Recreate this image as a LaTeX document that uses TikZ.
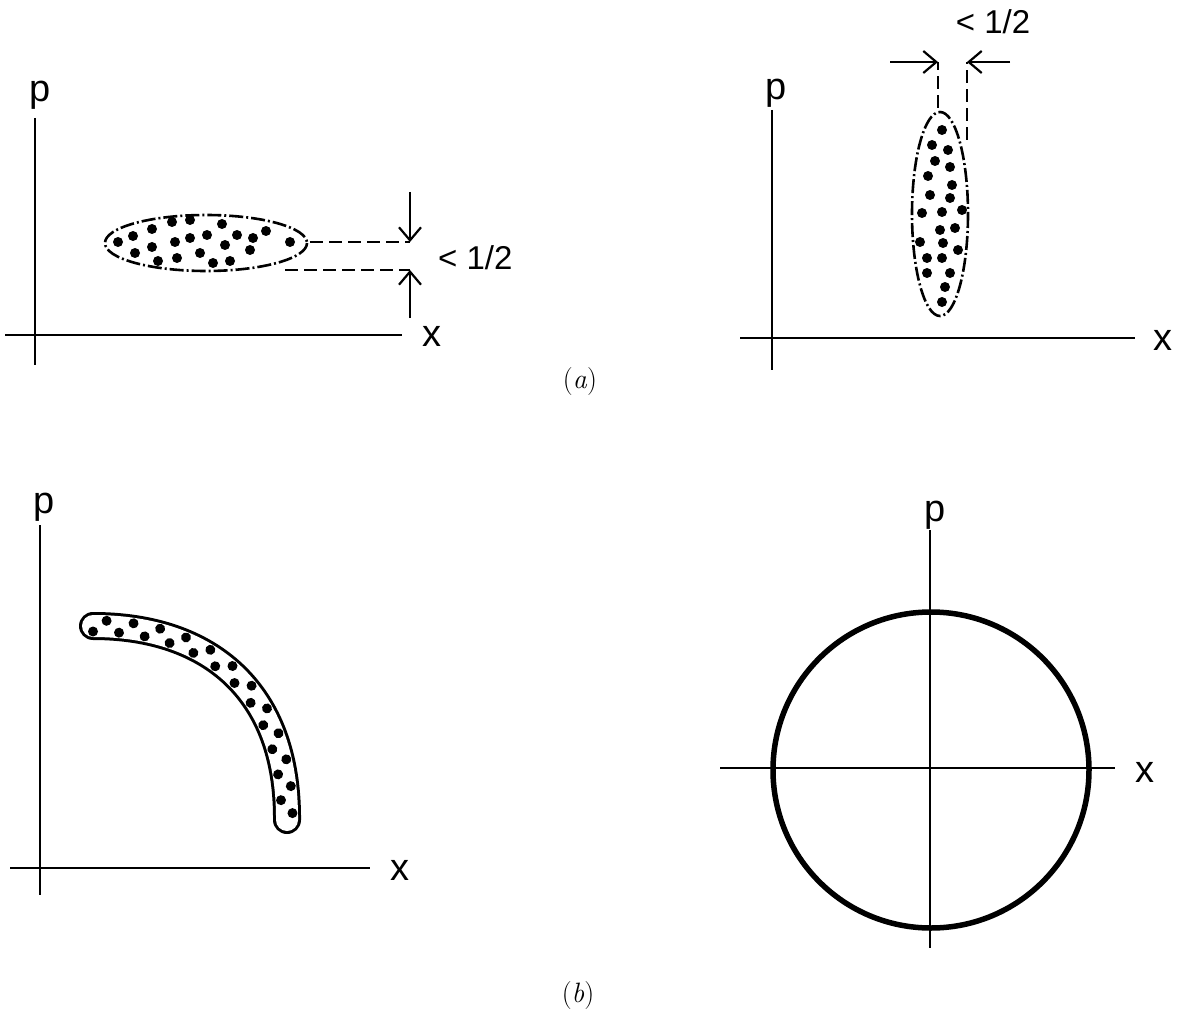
\documentclass[tikz,border=0pt]{standalone}
\usepackage{fontspec}
\setsansfont{Liberation Sans}
\usetikzlibrary{arrows.meta, decorations.markings}

\begin{document}
\begin{tikzpicture}[x=1pt, y=-1pt,
  axis/.style={line width=2pt},
  lbl/.style={font=\sffamily\fontsize{38}{42}\selectfont, inner sep=0pt},
  dim/.style={font=\sffamily\fontsize{33}{36}\selectfont, inner sep=0pt},
  tag/.style={font=\fontsize{28}{32}\selectfont, inner sep=0pt},
  dot/.style={fill=black},
  rim/.style={line width=2.6pt, dash pattern=on 14pt off 3pt on 2pt off 3pt},
  guide/.style={line width=2.2pt, dash pattern=on 13pt off 6pt},
  arr/.style={-{Straight Barb[length=13pt, width=22pt]}, line width=2.2pt}
]
  \useasboundingbox (0,0) rectangle (1181,1011);

  % (a), left: wide ellipse
  \draw[axis] (35,118) -- (35,365);
  \draw[axis] (5,335) -- (402,335);
  \node[lbl] (pa1) at (40,95) {p};
  \node[lbl] (xa1) at (432,336) {x};
  \draw[rim] (206,243) ellipse [x radius=101, y radius=28];
  \foreach \px/\py in {118/242, 135/253, 133/236, 152/229, 152/247, 158/261,
      172/222, 175/242, 177/258, 190/220, 190/238, 200/253, 207/235, 213/263,
      222/224, 225/245, 230/261, 237/235, 250/250, 253/238, 266/231, 290/242}
    \fill[dot] (\px,\py) circle (5);
  \coordinate (ta) at (410,242);
  \coordinate (tb) at (410,270);
  \draw[guide] (310,242) -- (ta);
  \draw[guide] (285,270) -- (tb);
  \coordinate (sa) at (410,192);
  \coordinate (sb) at (410,318);
  \draw[arr] (sa) -- (ta);
  \draw[arr] (sb) -- (tb);
  \node[dim, anchor=west] (wa) at (438,258) {< 1/2};

  % (a), right: tall ellipse
  \draw[axis] (772,110) -- (772,370);
  \draw[axis] (740,338) -- (1135,338);
  \node[lbl] (pa2) at (776,93) {p};
  \node[lbl] (xa2) at (1163,340) {x};
  \draw[rim] (940,214) ellipse [x radius=28, y radius=102];
  \foreach \px/\py in {942/130, 932/145, 948/150, 935/161, 950/167, 928/176,
      952/185, 930/195, 950/198, 922/213, 942/212, 962/210, 940/230, 955/228,
      920/242, 943/243, 958/250, 927/258, 942/258, 927/273, 950/273, 945/287,
      942/302}
    \fill[dot] (\px,\py) circle (5);
  \coordinate (ua) at (938,62);
  \coordinate (ub) at (967,62);
  \draw[guide] (938,108) -- (ua);
  \draw[guide] (967,140) -- (ub);
  \coordinate (va) at (890,62);
  \coordinate (vb) at (1010,62);
  \draw[arr] (va) -- (ua);
  \draw[arr] (vb) -- (ub);
  \node[dim] (wb) at (993,22) {< 1/2};

  \node[tag] (capa) at (580,382) {(\textit{a})};

  % (b), left: bent band
  \draw[axis] (40,525) -- (40,895);
  \draw[axis] (10,868) -- (370,868);
  \node[lbl] (pb1) at (44,507) {p};
  \node[lbl] (xb1) at (400,870) {x};
  \coordinate (b1) at (93,626);
  \coordinate (b2) at (210,626);
  \coordinate (b3) at (288,692);
  \coordinate (b4) at (287,820);
  \draw[line width=28pt, line cap=round] (b1) .. controls (b2) and (b3) .. (b4);
  \draw[line width=22pt, line cap=round, white] (b1) .. controls (b2) and (b3) .. (b4);
  \path[decoration={markings,
      mark=between positions 0.0 and 1 step 0.085 with {\fill[dot] (0,5.5) circle (5);},
      mark=between positions 0.0425 and 1 step 0.085 with {\fill[dot] (0,-5.5) circle (5);}},
    decorate] (b1) .. controls (b2) and (b3) .. (b4);

  % (b), right: ring
  \draw[axis] (930,530) -- (930,948);
  \draw[axis] (720,768) -- (1115,768);
  \node[lbl] (pb2) at (935,515) {p};
  \node[lbl] (xb2) at (1145,772) {x};
  \draw[line width=5.5pt] (931,770) circle (158);

  \node[tag] (capb) at (578,996) {(\textit{b})};
\end{tikzpicture}
\end{document}
